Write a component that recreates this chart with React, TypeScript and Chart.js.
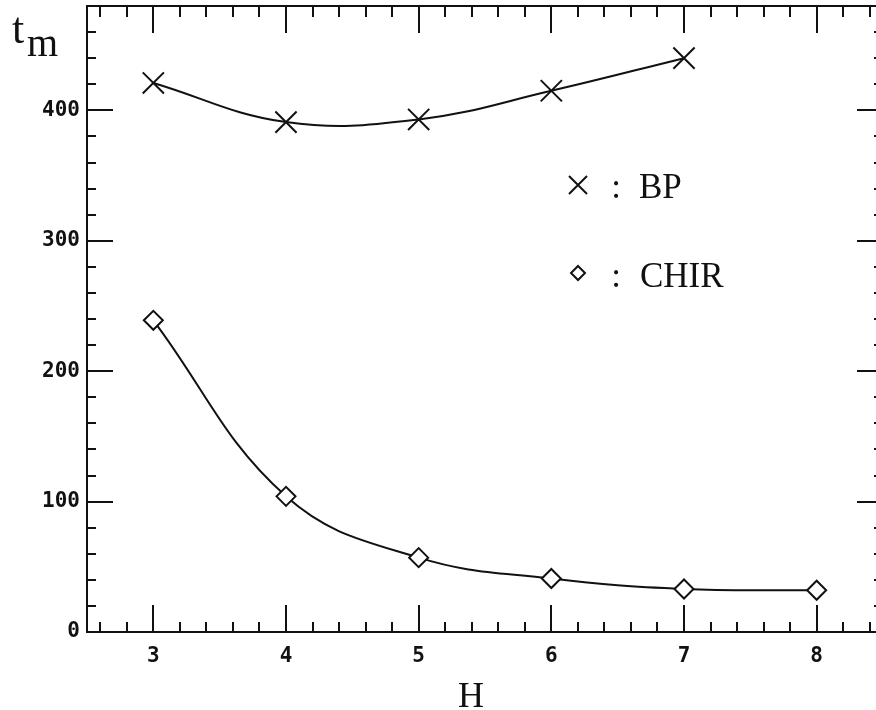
import React, { useEffect, useRef } from 'react';
import { Chart, registerables } from 'chart.js';

Chart.register(...registerables);

// ---- data ----
const hBP = [3, 4, 5, 6, 7];
const bpValues = [421, 391, 393, 415, 440];
const hCHIR = [3, 4, 5, 6, 7, 8];
const chirValues = [239, 104, 57, 41, 33, 32];
const xTickValues = [3, 4, 5, 6, 7, 8];
const yTickValues = [0, 100, 200, 300, 400];
const xTitle = 'H';
const yTitleMain = 't';
const yTitleSub = 'm';
const legendLabels = ['BP', 'CHIR'];

const X_MIN = 2.5;
const X_MAX = 8.5;
const Y_MIN = 0;
const Y_MAX = 480;

const INK = '#111111';
const SERIF = '"Liberation Serif", "DejaVu Serif", serif';

const framePlugin = {
  id: 'frameTicks',
  beforeDatasetsDraw(chart: any) {
    const ctx = chart.ctx as CanvasRenderingContext2D;
    const { left, right, top, bottom } = chart.chartArea;
    const xs = chart.scales.x;
    const ys = chart.scales.y;
    ctx.save();
    ctx.strokeStyle = INK;
    ctx.lineWidth = 2;
    ctx.lineCap = 'butt';
    ctx.strokeRect(left, top, right - left, bottom - top);
    ctx.beginPath();
    // x ticks: minor every 0.2, major at integers
    for (let i = Math.ceil(X_MIN * 5 + 0.001); i < X_MAX * 5; i++) {
      const v = i / 5;
      const px = Math.round(xs.getPixelForValue(v));
      const major = i % 5 === 0;
      const lb = major ? 27 : 10;
      const lt = major ? 27 : 11;
      ctx.moveTo(px, bottom);
      ctx.lineTo(px, bottom - lb);
      ctx.moveTo(px, top);
      ctx.lineTo(px, top + lt);
    }
    // y ticks: minor every 20, major every 100
    for (let v = Y_MIN + 20; v < Y_MAX; v += 20) {
      const py = Math.round(ys.getPixelForValue(v));
      const major = v % 100 === 0;
      const l = major ? 26 : 9;
      ctx.moveTo(left, py);
      ctx.lineTo(left + l, py);
      ctx.moveTo(right, py);
      ctx.lineTo(right - l, py);
    }
    ctx.stroke();
    ctx.restore();
  },
  afterDraw(chart: any) {
    const ctx = chart.ctx as CanvasRenderingContext2D;
    ctx.save();
    ctx.fillStyle = INK;
    ctx.strokeStyle = INK;
    ctx.textBaseline = 'alphabetic';
    ctx.textAlign = 'left';

    // y title t_m
    ctx.font = `44px ${SERIF}`;
    ctx.fillText(yTitleMain, 12, 43);
    ctx.font = `40px ${SERIF}`;
    ctx.fillText(yTitleSub, 27, 56);

    // x title H
    ctx.font = `36px ${SERIF}`;
    ctx.textAlign = 'center';
    ctx.fillText(xTitle, 471, 707);

    // legend
    ctx.lineWidth = 2;
    ctx.beginPath();
    ctx.moveTo(569, 176);
    ctx.lineTo(587, 194);
    ctx.moveTo(587, 176);
    ctx.lineTo(569, 194);
    ctx.stroke();
    ctx.beginPath();
    ctx.moveTo(578, 266);
    ctx.lineTo(585, 273);
    ctx.lineTo(578, 280);
    ctx.lineTo(571, 273);
    ctx.closePath();
    ctx.stroke();

    ctx.font = `35px ${SERIF}`;
    ctx.textAlign = 'center';
    ctx.fillText(':', 616, 198);
    ctx.fillText(':', 616, 287);
    ctx.textAlign = 'left';
    ctx.fillText(legendLabels[0], 639, 198);
    ctx.fillText(legendLabels[1], 640, 287);
    ctx.restore();
  },
};

export default function App() {
  const canvasRef = useRef<HTMLCanvasElement | null>(null);

  useEffect(() => {
    const canvas = canvasRef.current;
    if (!canvas) return;
    const tickFont = { family: '"DejaVu Sans Mono", monospace', size: 21, weight: 'bold' };
    const chart = new Chart(canvas, {
      type: 'line',
      data: {
        datasets: [
          {
            label: 'BP',
            data: hBP.map((h, i) => ({ x: h, y: bpValues[i] })),
            borderColor: INK,
            borderWidth: 2,
            backgroundColor: 'rgba(0,0,0,0)',
            tension: 0.4,
            pointStyle: 'crossRot',
            pointRadius: 15,
            pointBorderWidth: 2,
            pointBorderColor: INK,
            fill: false,
          },
          {
            label: 'CHIR',
            data: hCHIR.map((h, i) => ({ x: h, y: chirValues[i] })),
            borderColor: INK,
            borderWidth: 2,
            backgroundColor: '#ffffff',
            tension: 0.4,
            pointStyle: 'rectRot',
            pointRadius: 9.5,
            pointBorderWidth: 2,
            pointBorderColor: INK,
            pointBackgroundColor: '#ffffff',
            fill: false,
          },
        ],
      },
      options: {
        animation: false,
        responsive: false,
        maintainAspectRatio: false,
        devicePixelRatio: 1,
        layout: { autoPadding: false, padding: { top: 6, right: 7, left: 0, bottom: 0 } },
        plugins: {
          legend: { display: false },
          tooltip: { enabled: false },
          title: { display: false },
        },
        scales: {
          x: {
            type: 'linear',
            min: X_MIN,
            max: X_MAX,
            grid: { display: false, drawTicks: false },
            border: { display: false },
            ticks: {
              autoSkip: false,
              maxRotation: 0,
              padding: 12,
              color: INK,
              font: tickFont,
              callback: (v: any) => String(v),
            },
            afterBuildTicks: (s: any) => {
              s.ticks = xTickValues.map((v) => ({ value: v }));
            },
            afterFit: (s: any) => {
              s.height = 78;
              s.paddingLeft = 0;
              s.paddingRight = 0;
            },
          },
          y: {
            type: 'linear',
            min: Y_MIN,
            max: Y_MAX,
            grid: { display: false, drawTicks: false },
            border: { display: false },
            ticks: {
              autoSkip: false,
              padding: 7,
              color: INK,
              font: tickFont,
              callback: (v: any) => String(v),
            },
            afterBuildTicks: (s: any) => {
              s.ticks = yTickValues.map((v) => ({ value: v }));
            },
            afterFit: (s: any) => {
              s.width = 87;
              s.paddingTop = 0;
              s.paddingBottom = 0;
            },
          },
        },
      } as any,
      plugins: [framePlugin],
    });
    return () => chart.destroy();
  }, []);

  return (
    <div
      style={{
        position: 'absolute',
        left: 0,
        top: 0,
        width: 876,
        height: 710,
        overflow: 'hidden',
        background: '#ffffff',
      }}
    >
      <div style={{ width: 890, height: 710, position: 'relative' }}>
        <canvas ref={canvasRef} width={890} height={710} style={{ display: 'block', width: 890, height: 710 }} />
      </div>
    </div>
  );
}
